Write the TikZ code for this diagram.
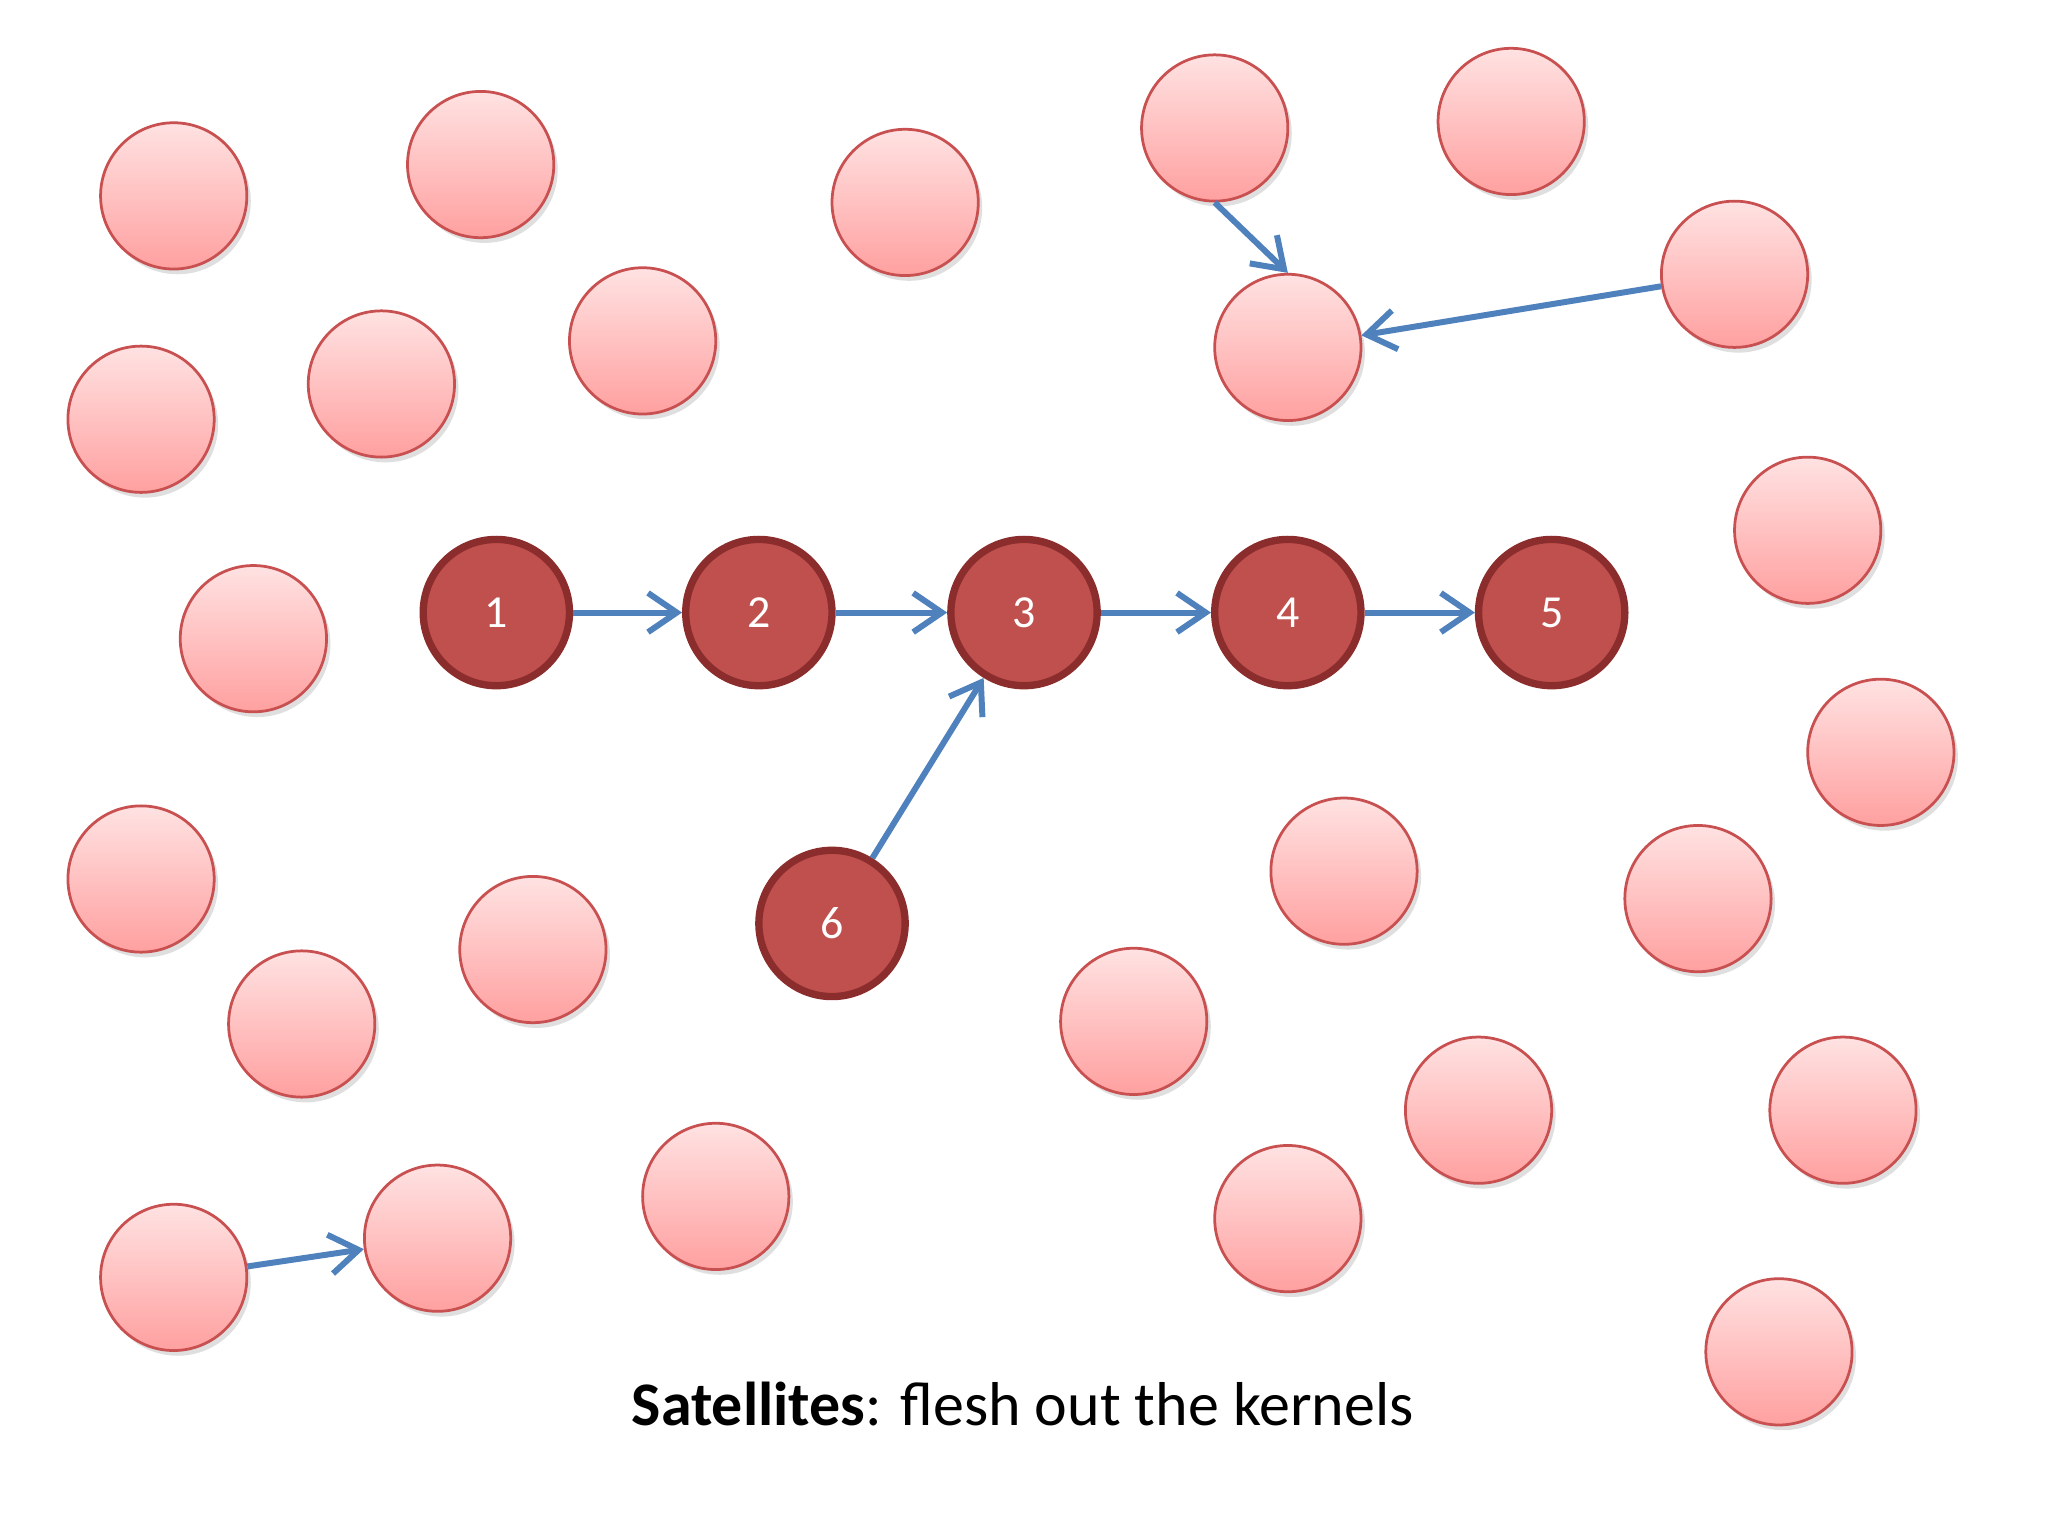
\documentclass[tikz,border=0pt]{standalone}
\usepackage{fontspec}
\setmainfont{Carlito}
\usetikzlibrary{arrows.meta,shadows}
\definecolor{pinktop}{RGB}{255,226,226}
\definecolor{pinkbot}{RGB}{255,160,160}
\definecolor{pinkedge}{RGB}{200,80,80}
\definecolor{darkfill}{RGB}{192,80,77}
\definecolor{darkedge}{RGB}{140,45,45}
\definecolor{arrowblue}{RGB}{79,129,189}
\tikzset{
  sat/.style={circle,minimum size=1.12cm,inner sep=0pt,draw=pinkedge,line width=0.6pt,
    top color=pinktop,bottom color=pinkbot,drop shadow={opacity=0.25,shadow xshift=0.03cm,shadow yshift=-0.04cm}},
  kern/.style={circle,minimum size=1.12cm,inner sep=0pt,draw=darkedge,line width=1.6pt,
    fill=darkfill,text=white,font=\fontsize{10}{12}\selectfont},
  link/.style={-{Straight Barb[length=2.2mm,width=3mm]},draw=arrowblue,line width=1.3pt}
}
\begin{document}
\begin{tikzpicture}
\useasboundingbox[fill=white] (0,0) rectangle (15.68,-11.76);
\foreach \x/\y/\n in {133/150/a,368/126/b,693/155/c,930/98/d,1157/93/e,1328/210/f,986/266/g,492/261/h,292/294/i,108/321/j,1384/406/k,194/489/l,1440/576/m,108/673/n,1029/667/o,1300/688/p,408/727/q,231/784/r,868/782/s,1132/850/t,1411/850/u,548/916/v,986/933/w,133/978/x,335/948/y,1362/1035/z}
  \node[sat] (s\n) at (\x/100,-\y/100) {};
\node[kern] (k1) at (3.80,-4.69) {1};
\node[kern] (k2) at (5.81,-4.69) {2};
\node[kern] (k3) at (7.84,-4.69) {3};
\node[kern] (k4) at (9.86,-4.69) {4};
\node[kern] (k5) at (11.88,-4.69) {5};
\node[kern] (k6) at (6.37,-7.07) {6};
\draw[link] (k1) -- (k2);
\draw[link] (k2) -- (k3);
\draw[link] (k3) -- (k4);
\draw[link] (k4) -- (k5);
\draw[link] (k6) -- (k3);
\draw[link] (sd.south) -- (sg.north);
\draw[link] (sf) -- (sg);
\draw[link] (sx) -- (sy);
\node[font=\fontsize{13.5}{16}\selectfont] (cap) at (7.83,-10.75) {\textbf{Satellites}: flesh out the kernels};
\end{tikzpicture}
\end{document}
